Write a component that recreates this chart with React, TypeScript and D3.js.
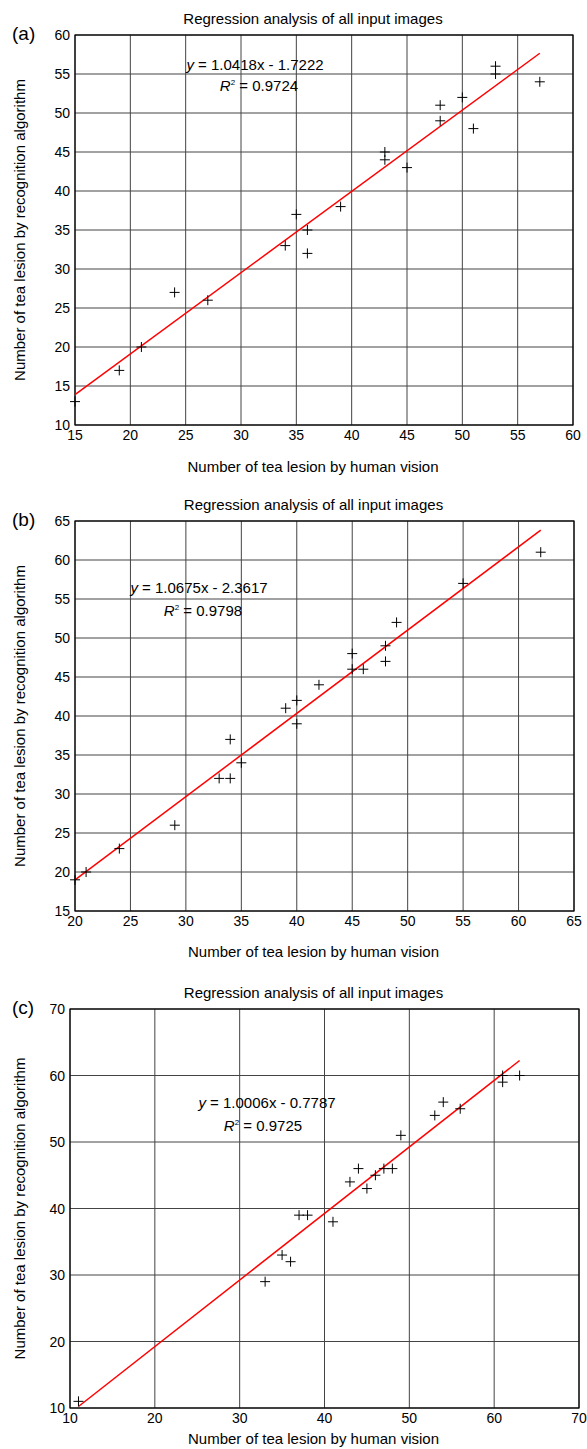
import React from 'react';
import * as d3 from 'd3';

// panel (a)
const humanA = [15, 19, 21, 24, 27, 34, 35, 36, 36, 39, 43, 43, 45, 48, 48, 50, 51, 53, 53, 57];
const algoA = [13, 17, 20, 27, 26, 33, 37, 35, 32, 38, 45, 44, 43, 51, 49, 52, 48, 56, 55, 54];
// panel (b)
const humanB = [20, 21, 24, 29, 33, 34, 34, 35, 39, 40, 40, 42, 45, 45, 46, 48, 48, 49, 55, 62];
const algoB = [19, 20, 23, 26, 32, 32, 37, 34, 41, 42, 39, 44, 48, 46, 46, 49, 47, 52, 57, 61];
// panel (c)
const humanC = [11, 33, 35, 36, 37, 38, 41, 43, 44, 45, 46, 47, 48, 49, 53, 54, 56, 61, 61, 63];
const algoC = [11, 29, 33, 32, 39, 39, 38, 44, 46, 43, 45, 46, 46, 51, 54, 56, 55, 60, 59, 60];

const panelTags = ['(a)', '(b)', '(c)'];
const slopes = ['1.0418', '1.0675', '1.0006'];
const intercepts = ['1.7222', '2.3617', '0.7787'];
const r2s = ['0.9724', '0.9798', '0.9725'];
const xTicksA = [15, 20, 25, 30, 35, 40, 45, 50, 55, 60];
const yTicksA = [10, 15, 20, 25, 30, 35, 40, 45, 50, 55, 60];
const xTicksB = [20, 25, 30, 35, 40, 45, 50, 55, 60, 65];
const yTicksB = [15, 20, 25, 30, 35, 40, 45, 50, 55, 60, 65];
const xTicksC = [10, 20, 30, 40, 50, 60, 70];
const yTicksC = [10, 20, 30, 40, 50, 60, 70];

const title = 'Regression analysis of all input images';
const xLabel = 'Number of tea lesion by human vision';
const yLabel = 'Number of tea lesion by recognition algorithm';

const FONT = '"Liberation Sans", Arial, Helvetica, sans-serif';

// box geometry + where the equation sits
const layouts = [
  { left: 75, right: 573, top: 35, bottom: 425, eqX: 255, eqY: 70, r2X: 259, r2Y: 91, xlab: 472 },
  { left: 75, right: 574, top: 521, bottom: 911, eqX: 199, eqY: 593, r2X: 203, r2Y: 616, xlab: 957 },
  { left: 70, right: 579, top: 1009, bottom: 1408, eqX: 267, eqY: 1108, r2X: 263, r2Y: 1131, xlab: 1444 },
];

const panels = [
  { xs: humanA, ys: algoA, xt: xTicksA, yt: yTicksA },
  { xs: humanB, ys: algoB, xt: xTicksB, yt: yTicksB },
  { xs: humanC, ys: algoC, xt: xTicksC, yt: yTicksC },
];

function Panel({ i }: { i: number }) {
  const L = layouts[i];
  const P = panels[i];
  const x = d3.scaleLinear().domain(d3.extent(P.xt) as [number, number]).range([L.left, L.right]);
  const y = d3.scaleLinear().domain(d3.extent(P.yt) as [number, number]).range([L.bottom, L.top]);
  const a = +slopes[i];
  const b = -intercepts[i];
  const [x0, x1] = d3.extent(P.xs) as [number, number];
  const fit = d3.line<number>().x(v => x(v)).y(v => y(a * v + b));
  const cx = (L.left + L.right) / 2 - 11;
  const s = 5;

  return (
    <g fontFamily={FONT}>
      {P.xt.map(t => (
        <line key={'gx' + t} x1={x(t)} x2={x(t)} y1={L.top} y2={L.bottom} stroke="#444" strokeWidth={1} />
      ))}
      {P.yt.map(t => (
        <line key={'gy' + t} x1={L.left} x2={L.right} y1={y(t)} y2={y(t)} stroke="#444" strokeWidth={1} />
      ))}
      <rect x={L.left} y={L.top} width={L.right - L.left} height={L.bottom - L.top} fill="none" stroke="#000" strokeWidth={1.2} />

      {P.xt.map(t => (
        <text key={'tx' + t} x={x(t)} y={L.bottom + 15} textAnchor="middle" fontSize={14}>{t}</text>
      ))}
      {P.yt.map(t => (
        <text key={'ty' + t} x={L.left - 5} y={y(t) + 5} textAnchor="end" fontSize={14}>{t}</text>
      ))}

      <path d={fit([x0, x1]) || ''} stroke="#ff0000" strokeWidth={1.5} fill="none" />

      {P.xs.map((v, k) => {
        const px = x(v);
        const py = y(P.ys[k]);
        return (
          <path key={'p' + k} d={`M${px - s},${py}H${px + s}M${px},${py - s}V${py + s}`} stroke="#000" strokeWidth={1} fill="none" />
        );
      })}

      <text x={L.eqX} y={L.eqY} textAnchor="middle" fontSize={15}>
        <tspan fontStyle="italic">y</tspan>{` = ${slopes[i]}x - ${intercepts[i]}`}
      </text>
      <text x={L.r2X} y={L.r2Y} textAnchor="middle" fontSize={15}>
        <tspan fontStyle="italic">R</tspan>
        <tspan fontSize={8} dy={-6}>2</tspan>
        <tspan dy={6}>{` = ${r2s[i]}`}</tspan>
      </text>

      <text x={cx} y={L.top - 11} textAnchor="middle" fontSize={15}>{title}</text>
      <text x={cx} y={L.xlab} textAnchor="middle" fontSize={15}>{xLabel}</text>
      <text
        transform={`translate(25,${(L.top + L.bottom) / 2}) rotate(-90)`}
        textAnchor="middle"
        fontSize={15}
      >
        {yLabel}
      </text>
      <text x={12} y={L.top + 5} fontSize={19}>{panelTags[i]}</text>
    </g>
  );
}

export default function App() {
  return (
    <svg width={587} height={1449} style={{ position: 'absolute', left: 0, top: 0, background: '#fff' }}>
      <rect width={587} height={1449} fill="#fff" />
      {layouts.map((_, i) => (
        <Panel key={i} i={i} />
      ))}
    </svg>
  );
}
